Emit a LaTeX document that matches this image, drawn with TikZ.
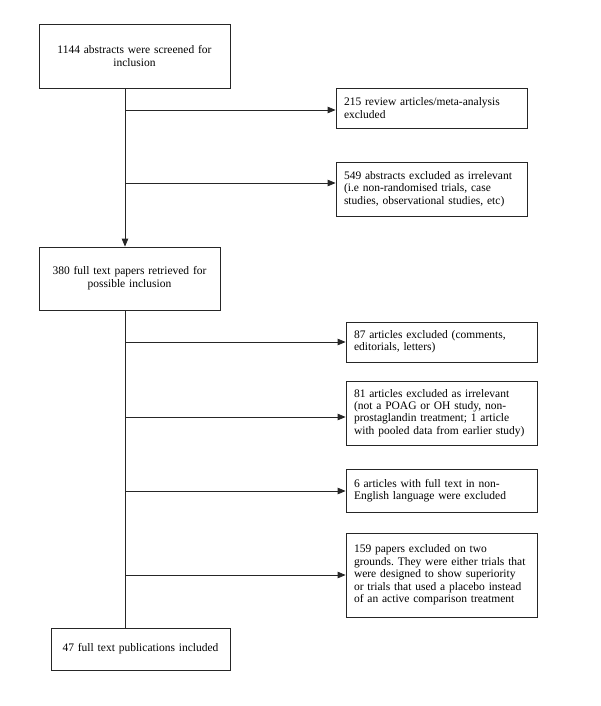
\documentclass[tikz,border=0pt]{standalone}
\usepackage{fontspec}
\setmainfont{Liberation Serif}
\usetikzlibrary{arrows.meta}
\begin{document}
\frenchspacing
\begin{tikzpicture}[x=1pt,y=-1pt,
  box/.style={draw=black!85, line width=0.8pt, inner xsep=8pt, inner ysep=0pt,
    minimum width=#1, text width=#1-16pt},
  lbox/.style={box=#1, align=center, font=\fontsize{11.5}{13}\selectfont\frenchspacing},
  rbox/.style={box=#1, align=left, font=\fontsize{11.5}{12.4}\selectfont\frenchspacing},
  link/.style={draw=black!85, line width=0.8pt},
  arr/.style={link, -{Triangle[length=8pt,width=6.5pt]}}]
\useasboundingbox (0,0) rectangle (600,706);
\coordinate (spine) at (125,0);
% left boxes
\node[lbox=191pt, minimum height=64pt] (b1) at (134.5,56) {1144 abstracts were screened for\\inclusion};
\node[lbox=181pt, minimum height=63pt] (b4) at (129.5,278.5) {380 full text papers retrieved for\\possible inclusion};
\node[lbox=179pt, minimum height=42pt] (b9) at (140.5,649) {47 full text publications included};
% right boxes
\node[rbox=191pt, minimum height=40pt] (b2) at (431.5,108) {215 review articles/meta-analysis\\excluded};
\node[rbox=191pt, minimum height=54pt] (b3) at (431.5,189) {549 abstracts excluded as irrelevant\\(i.e non-randomised trials, case\\studies, observational studies, etc)};
\node[rbox=191pt, minimum height=40pt] (b5) at (441.5,342) {87 articles excluded (comments,\\editorials, letters)};
\node[rbox=191pt, minimum height=64pt] (b6) at (441.5,413) {81 articles excluded as irrelevant\\(not a POAG or OH study, non-\\prostaglandin treatment; 1 article\\with pooled data from earlier study)};
\node[rbox=191pt, minimum height=43pt] (b7) at (441.5,490.5) {6 articles with full text in non-\\English language were excluded};
\node[rbox=191pt, minimum height=84pt] (b8) at (441.5,575) {159 papers excluded on two\\grounds. They were either trials that\\were designed to show superiority\\or trials that used a placebo instead\\of an active comparison treatment};
% junctions
\coordinate (j2) at (125,110);
\coordinate (j3) at (125,183);
\coordinate (j5) at (125,342);
\coordinate (j6) at (125,417);
\coordinate (j7) at (125,491);
\coordinate (j8) at (125,575);
% spine
\draw[arr] (b1.south -| spine) -- (b4.north -| spine);
\draw[link] (b4.south -| spine) -- (b9.north -| spine);
% branches
\draw[arr] (j2) -- (j2 -| b2.west);
\draw[arr] (j3) -- (j3 -| b3.west);
\draw[arr] (j5) -- (j5 -| b5.west);
\draw[arr] (j6) -- (j6 -| b6.west);
\draw[arr] (j7) -- (j7 -| b7.west);
\draw[arr] (j8) -- (j8 -| b8.west);
\end{tikzpicture}
\end{document}
